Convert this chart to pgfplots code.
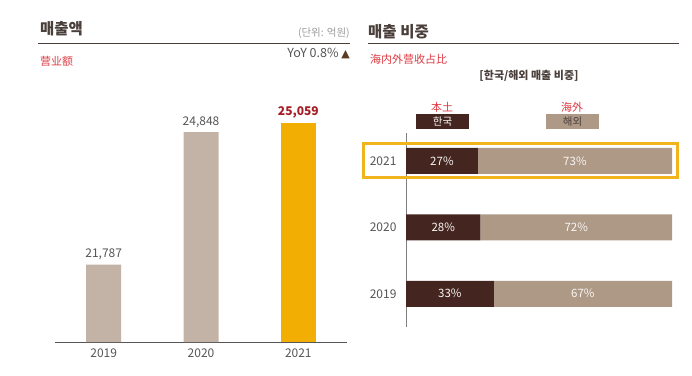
\documentclass[border=0pt]{standalone}
\usepackage{pgfplots}
\pgfplotsset{compat=1.18}
\usepackage{fontspec}
\setmainfont{Noto Sans CJK KR}
\newfontfamily\sym{DejaVu Sans}
\definecolor{beige}{HTML}{C3B3A7}
\definecolor{gold}{HTML}{F2AE02}
\definecolor{hlbox}{HTML}{F2B41C}
\definecolor{darkb}{HTML}{44251F}
\definecolor{lightb}{HTML}{AE9886}
\definecolor{redt}{HTML}{DC3A42}
\definecolor{darkred}{HTML}{A51C24}
\definecolor{titlec}{HTML}{4A3F3B}
\definecolor{numc}{HTML}{555555}
\definecolor{grayt}{HTML}{9C9C9C}
\definecolor{tri}{HTML}{5A3A22}
\begin{document}
\begin{tikzpicture}
\useasboundingbox (0pt,0pt) rectangle (692pt,375pt);
% ---------- left panel headers ----------
\node[anchor=west, font=\fontsize{15.5}{17}\selectfont\bfseries, text=titlec, inner sep=0] at (40pt,346pt) {매출액};
\draw[titlec, line width=1pt] (38pt,331.3pt) -- (350pt,331.3pt);
\node[anchor=east, font=\fontsize{10.5}{12}\selectfont, text=grayt, inner sep=0] at (350pt,342pt) {(단위: 억원)};
\node[anchor=west, font=\fontsize{11}{13}\selectfont, text=redt, inner sep=0] at (40pt,314pt) {营业额};
\node[anchor=east, font=\fontsize{12.5}{14}\selectfont, text=numc, inner sep=0] at (350pt,321pt) {YoY 0.8\% {\sym\fontsize{11}{13}\selectfont\textcolor{tri}{▲}}};
% ---------- left chart ----------
\begin{axis}[at={(55pt,33pt)}, anchor=south west, scale only axis,
  width=292pt, height=242pt,
  xmin=-0.5, xmax=2.5, ymin=20000, ymax=25587,
  ybar, bar width=35pt, bar shift=0pt,
  axis x line*=bottom, axis y line=none,
  axis line style={-, color=numc, line width=0.9pt},
  xtick={0,1,2}, xticklabels={2019,2020,2021},
  major tick length=0pt,
  /pgf/number format/assume math mode=true,
  /pgf/number format/fixed, /pgf/number format/precision=0,
  /pgf/number format/1000 sep={,},
  xticklabel style={font=\fontsize{12}{14}\selectfont, text=numc, yshift=-3pt},
  nodes near coords,
  every node near coord/.append style={font=\fontsize{12}{14}\selectfont, text=numc, yshift=1pt},
  clip=true]
\addplot[fill=beige, draw=none] coordinates {(0,21787) (1,24848)};
\addplot[fill=gold, draw=none, every node near coord/.append style={font=\fontsize{12}{14}\selectfont\bfseries, text=darkred}] coordinates {(2,25059)};
\end{axis}
% ---------- right panel headers ----------
\node[anchor=west, font=\fontsize{15.5}{17}\selectfont\bfseries, text=titlec, inner sep=0] at (368pt,343pt) {매출 비중};
\draw[titlec, line width=1pt] (368pt,331.7pt) -- (679pt,331.7pt);
\node[anchor=west, font=\fontsize{11}{13}\selectfont, text=redt, inner sep=0] at (370pt,316pt) {海内外营收占比};
\node[font=\fontsize{11}{13}\selectfont\bfseries, text=titlec, inner sep=0] at (529pt,299pt) {[한국/해외 매출 비중]};
\node[font=\fontsize{11}{13}\selectfont, text=redt, inner sep=0] at (442pt,268pt) {本土};
\node[font=\fontsize{11}{13}\selectfont, text=redt, inner sep=0] at (572pt,268pt) {海外};
\fill[darkb] (416pt,246pt) rectangle (469pt,261pt);
\node[font=\fontsize{10.5}{12}\selectfont, text=white, inner sep=0] at (442.5pt,253.5pt) {한국};
\fill[lightb] (546pt,246pt) rectangle (599pt,261pt);
\node[font=\fontsize{10.5}{12}\selectfont, text=titlec, inner sep=0] at (572.5pt,253.5pt) {해외};
% ---------- right chart ----------
\begin{axis}[at={(406pt,48pt)}, anchor=south west, scale only axis,
  width=266pt, height=194pt,
  xbar stacked, bar width=26pt,
  xmin=0, xmax=100, ymin=-0.5, ymax=2.42,
  axis x line=none, axis y line*=left,
  axis line style={-, color=gray, line width=0.9pt},
  ytick={0,1,2}, yticklabels={2019,2020,2021},
  major tick length=0pt,
  yticklabel style={font=\fontsize{12}{14}\selectfont, text=numc, xshift=-6pt}]
\addplot[fill=darkb, draw=none] coordinates {(33,0) (28,1) (27,2)};
\addplot[fill=lightb, draw=none] coordinates {(67,0) (72,1) (73,2)};
\end{axis}
\begin{axis}[at={(406pt,48pt)}, anchor=south west, scale only axis,
  width=266pt, height=194pt,
  xmin=0, xmax=100, ymin=-0.5, ymax=2.42, hide axis,
  point meta=explicit symbolic]
\addplot[only marks, mark=none, nodes near coords,
  every node near coord/.append style={anchor=center, font=\fontsize{11.5}{13}\selectfont, text=white!92!lightb}]
  coordinates {(16.5,0) [33\%] (66.5,0) [67\%] (14,1) [28\%] (64,1) [72\%] (13.5,2) [27\%] (63.5,2) [73\%]};
\end{axis}
\draw[hlbox, line width=3pt] (363.5pt,197.5pt) rectangle (677.5pt,231.5pt);
\end{tikzpicture}
\end{document}
